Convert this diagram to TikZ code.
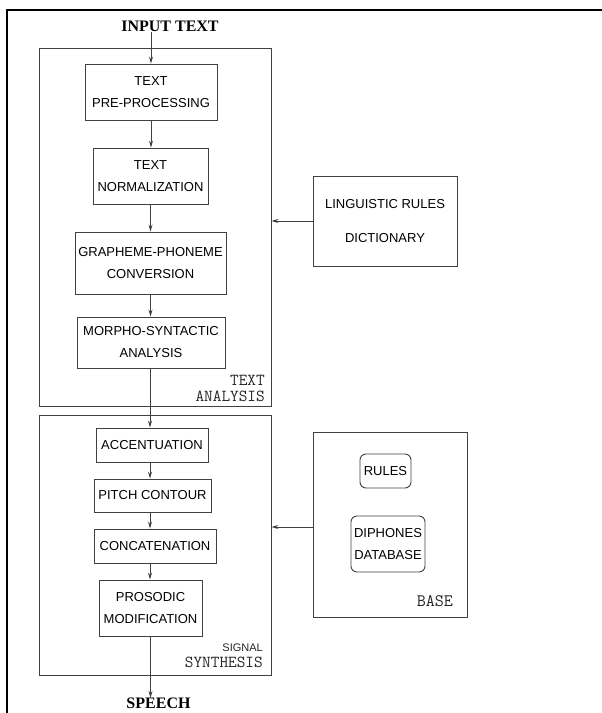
\documentclass[tikz,border=0pt]{standalone}
\usepackage{fontspec}
\setmainfont{Liberation Sans}
\newfontfamily\titlefont{Liberation Serif}
\usetikzlibrary{arrows.meta}

\begin{document}
\begin{tikzpicture}[x=1pt,y=-1pt,every node/.style={inner sep=0pt},
            >={Stealth[length=7pt,width=4pt,inset=2.5pt]},
            stage/.style={draw=black!75,line width=0.9pt,align=center,font=\fontsize{13}{22}\selectfont},
            store/.style={stage,rounded corners=6pt},
            block/.style={draw=black!75,line width=0.9pt},
            tag/.style={align=right,font=\ttfamily\fontsize{16.8}{16}\selectfont,text=black!85},
            title/.style={font=\titlefont\bfseries\fontsize{16}{18}\selectfont},
            flow/.style={->,draw=black!75,line width=0.8pt}]
  \useasboundingbox (0,0) rectangle (602,713);
  \draw[line width=2pt](7,713)--(7,10)--(602,10);
  % the two processing blocks
  \node[block,minimum width=232,minimum height=358](ana) at (155,227){};
  \node[block,minimum width=232,minimum height=260](syn) at (155,545){};
  \node[tag,anchor=south east](anatag) at (265,402){TEXT\\ANALYSIS};
  \node[tag,anchor=south east](syntag) at (263,668){{\rmfamily\fontsize{11}{17}\selectfont SIGNAL}\\SYNTHESIS};
  \node[title](input) at (170,26){INPUT TEXT};
  \node[title](speech) at (158.5,703.5){SPEECH};
  % text analysis
  \node[stage,minimum width=132,minimum height=56](pre) at (151,92){TEXT\\PRE-PROCESSING};
  \node[stage,minimum width=115,minimum height=56](norm) at (150.5,176){TEXT\\NORMALIZATION};
  \node[stage,minimum width=151,minimum height=62](graph) at (150.5,263){GRAPHEME-PHONEME\\CONVERSION};
  \node[stage,minimum width=148,minimum height=51](morph) at (151,342.5){MORPHO-SYNTACTIC\\ANALYSIS};
  % signal synthesis
  \node[stage,minimum width=112,minimum height=34](acc) at (152,445){ACCENTUATION};
  \node[stage,minimum width=117,minimum height=33](pitch) at (152.5,495.5){PITCH CONTOUR};
  \node[stage,minimum width=122,minimum height=34](conc) at (155,546){CONCATENATION};
  \node[stage,minimum width=103,minimum height=56](pros) at (150.5,608){PROSODIC\\MODIFICATION};
  % resources
  \node[stage,minimum width=144,minimum height=90,font=\fontsize{13}{34}\selectfont](ling) at (385,221){LINGUISTIC RULES\\DICTIONARY};
  \node[block,minimum width=154,minimum height=185](base) at (390,524.5){};
  \node[tag,anchor=south east,font=\ttfamily\fontsize{17.5}{16}\selectfont](basetag) at (453,607){BASE};
  \node[store,minimum width=51,minimum height=34](rules) at (385.5,471){RULES};
  \node[store,minimum width=74,minimum height=56](diph) at (388,544){DIPHONES\\DATABASE};
  % connectors
  \draw[flow](input.south -| pre.north)--(pre.north);
  \draw[flow](pre.south)--(pre.south |- norm.north);
  \draw[flow](norm.south)--(norm.south |- graph.north);
  \draw[flow](graph.south)--(graph.south |- morph.north);
  \draw[flow]([xshift=-1pt]morph.south)--([xshift=-1pt]morph.south |- acc.north);
  \draw[flow]([xshift=-2pt]acc.south)--([xshift=-2pt]acc.south |- pitch.north);
  \draw[flow]([xshift=-2.5pt]pitch.south)--([xshift=-2.5pt]pitch.south |- conc.north);
  \draw[flow]([xshift=-5pt]conc.south)--([xshift=-5pt]conc.south |- pros.north);
  \draw[flow](pros.south)--(pros.south |- speech.north);
  \draw[flow](ling.west)--(ling.west -| ana.east);
  \draw[flow]([yshift=-2.5pt]base.west)--([yshift=-2.5pt]base.west -| syn.east);
\end{tikzpicture}
\end{document}
